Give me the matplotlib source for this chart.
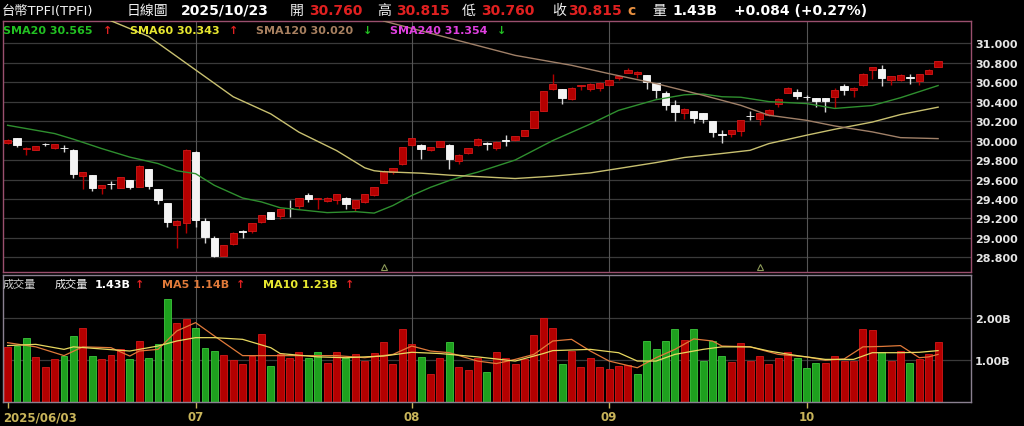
import numpy as np
import matplotlib
matplotlib.use('Agg')
import matplotlib.pyplot as plt
from matplotlib.transforms import blended_transform_factory

# Latin text from DejaVu, CJK characters fall back to Noto Sans CJK TC
plt.rcParams['font.family'] = ['DejaVu Sans', 'Noto Sans CJK TC']

# === daily candles, 2025/06/03 .. 2025/10/23 (100 trading days) ===
opens = [29.97, 30.027, 29.918, 29.90, 29.965, 29.925, 29.927, 29.908, 29.634, 29.65,
         29.51, 29.555, 29.515, 29.597, 29.525, 29.706, 29.50, 29.36, 29.13, 29.155,
         29.884, 29.173, 29.00, 28.817, 28.937, 29.07, 29.07, 29.162, 29.268, 29.224,
         29.312, 29.333, 29.44, 29.395, 29.38, 29.39, 29.415, 29.31, 29.367, 29.436,
         29.562, 29.672, 29.76, 29.95, 29.955, 29.90, 29.93, 29.955, 29.785, 29.87,
         29.95, 29.97, 29.92, 30.002, 30.003, 30.046, 30.13, 30.30, 30.527, 30.527,
         30.424, 30.557, 30.533, 30.54, 30.567, 30.646, 30.697, 30.687, 30.67, 30.59,
         30.489, 30.37, 30.284, 30.30, 30.284, 30.202, 30.065, 30.072, 30.096, 30.253,
         30.219, 30.26, 30.373, 30.489, 30.50, 30.45, 30.44, 30.44, 30.448, 30.557,
         30.523, 30.568, 30.72, 30.738, 30.626, 30.626, 30.65, 30.608, 30.687, 30.760]
highs = [30.02, 30.03, 29.93, 29.94, 29.97, 29.965, 29.952, 29.91, 29.68, 29.65,
         29.545, 29.583, 29.63, 29.60, 29.745, 29.71, 29.50, 29.36, 29.18, 29.91,
         29.89, 29.207, 29.02, 28.93, 29.06, 29.084, 29.155, 29.235, 29.27, 29.30,
         29.385, 29.415, 29.46, 29.41, 29.42, 29.45, 29.42, 29.39, 29.455, 29.52,
         29.70, 29.72, 29.935, 30.03, 29.96, 29.93, 30.0, 29.96, 29.86, 29.92,
         30.03, 29.99, 29.995, 30.055, 30.05, 30.11, 30.30, 30.51, 30.687, 30.53,
         30.545, 30.575, 30.59, 30.60, 30.625, 30.67, 30.745, 30.71, 30.675, 30.595,
         30.506, 30.414, 30.33, 30.30, 30.285, 30.205, 30.106, 30.11, 30.215, 30.30,
         30.285, 30.32, 30.435, 30.55, 30.533, 30.47, 30.44, 30.44, 30.54, 30.585,
         30.545, 30.69, 30.76, 30.773, 30.665, 30.68, 30.687, 30.68, 30.73, 30.815]
lows = [29.96, 29.935, 29.85, 29.90, 29.94, 29.91, 29.884, 29.62, 29.50, 29.484,
        29.45, 29.50, 29.51, 29.50, 29.52, 29.50, 29.35, 29.115, 28.90, 29.046,
        29.115, 28.944, 28.80, 28.81, 28.93, 29.00, 29.05, 29.15, 29.19, 29.19,
        29.214, 29.30, 29.367, 29.30, 29.37, 29.35, 29.30, 29.275, 29.36, 29.43,
        29.56, 29.66, 29.75, 29.94, 29.81, 29.89, 29.93, 29.71, 29.76, 29.86,
        29.94, 29.90, 29.90, 29.945, 29.995, 30.044, 30.13, 30.30, 30.52, 30.376,
        30.42, 30.516, 30.51, 30.51, 30.565, 30.62, 30.69, 30.646, 30.533, 30.437,
        30.31, 30.198, 30.226, 30.18, 30.185, 30.038, 29.97, 30.04, 30.048, 30.215,
        30.157, 30.255, 30.345, 30.485, 30.43, 30.42, 30.345, 30.294, 30.33, 30.47,
        30.448, 30.565, 30.636, 30.557, 30.568, 30.61, 30.578, 30.568, 30.68, 30.760]
closes = [30.01, 29.952, 29.928, 29.94, 29.96, 29.962, 29.922, 29.66, 29.68, 29.515,
          29.54, 29.55, 29.627, 29.525, 29.74, 29.53, 29.388, 29.16, 29.176, 29.908,
          29.183, 29.012, 28.814, 28.926, 29.053, 29.064, 29.152, 29.234, 29.19, 29.296,
          29.306, 29.412, 29.40, 29.408, 29.415, 29.446, 29.35, 29.39, 29.453, 29.52,
          29.692, 29.72, 29.932, 30.027, 29.915, 29.93, 29.993, 29.81, 29.856, 29.92,
          30.02, 29.965, 29.99, 29.998, 30.044, 30.11, 30.30, 30.506, 30.58, 30.438,
          30.544, 30.574, 30.585, 30.595, 30.62, 30.663, 30.728, 30.705, 30.60, 30.516,
          30.37, 30.294, 30.328, 30.232, 30.22, 30.089, 30.06, 30.106, 30.215, 30.25,
          30.284, 30.318, 30.43, 30.544, 30.458, 30.447, 30.403, 30.405, 30.523, 30.523,
          30.54, 30.687, 30.755, 30.646, 30.66, 30.677, 30.646, 30.68, 30.728, 30.815]

# volume in billions, and whether the day closed up (red) or down (green)
volume = [1.31, 1.35, 1.54, 1.08, 0.84, 1.03, 1.10, 1.59, 1.76, 1.10,
          1.03, 1.12, 1.26, 1.02, 1.45, 1.05, 1.38, 2.46, 1.88, 1.98,
          1.78, 1.29, 1.23, 1.12, 1.00, 0.90, 1.10, 1.62, 0.86, 1.14,
          1.05, 1.19, 1.06, 1.20, 0.94, 1.20, 1.05, 1.14, 0.98, 1.18,
          1.44, 0.90, 1.74, 1.40, 1.08, 0.67, 1.06, 1.44, 0.83, 0.76,
          1.06, 0.73, 1.20, 1.06, 0.90, 1.03, 1.61, 2.02, 1.78, 0.92,
          1.22, 0.84, 1.06, 0.84, 0.78, 0.87, 0.88, 0.68, 1.46, 1.27,
          1.46, 1.75, 1.48, 1.74, 0.97, 1.46, 1.11, 0.95, 1.42, 0.99,
          1.11, 0.90, 1.06, 1.19, 1.06, 0.82, 0.94, 0.94, 1.11, 0.99,
          0.99, 1.75, 1.72, 1.19, 0.97, 1.23, 0.94, 1.03, 1.16, 1.43]
vol_up = [1, 0, 0, 1, 1, 1, 0, 0, 1, 0, 1, 1, 1, 0, 1, 0, 0, 0, 1, 1,
          0, 0, 0, 1, 1, 1, 1, 1, 0, 1, 1, 1, 0, 0, 1, 1, 0, 1, 1, 1,
          1, 1, 1, 1, 0, 1, 1, 0, 1, 1, 1, 0, 1, 1, 1, 1, 1, 1, 1, 0,
          1, 1, 1, 1, 1, 1, 1, 0, 0, 0, 0, 0, 1, 0, 0, 0, 0, 1, 1, 1,
          1, 1, 1, 1, 0, 0, 0, 1, 1, 1, 1, 1, 1, 0, 1, 1, 0, 1, 1, 1]

# moving averages (bar index, value)
sma20_x = [0, 5, 7, 10, 13, 16, 18, 20, 22, 25, 27, 29, 31, 34, 37, 39, 41, 43, 45,
           47, 49, 50, 54, 58, 62, 65, 69, 72, 74, 76, 78, 81, 85, 88, 92, 95, 99]
sma20_v = [30.157, 30.072, 30.014, 29.918, 29.83, 29.764, 29.69, 29.66, 29.54, 29.41,
           29.37, 29.31, 29.29, 29.26, 29.27, 29.255, 29.333, 29.436, 29.52, 29.59,
           29.65, 29.675, 29.80, 30.0, 30.17, 30.31, 30.42, 30.47, 30.478, 30.45,
           30.445, 30.40, 30.38, 30.33, 30.36, 30.44, 30.565]
sma60_x = [11, 15, 24, 28, 31, 35, 38, 39, 40, 44, 47, 50, 54, 58, 62, 65, 69, 72,
           76, 79, 81, 85, 88, 92, 95, 99]
sma60_v = [31.23, 31.07, 30.45, 30.274, 30.086, 29.897, 29.72, 29.69, 29.68, 29.665,
           29.645, 29.63, 29.61, 29.634, 29.668, 29.713, 29.774, 29.826, 29.867, 29.90,
           29.969, 30.055, 30.116, 30.19, 30.267, 30.343]
sma120_x = [40, 54, 60, 64, 69, 74, 78, 81, 85, 88, 92, 95, 99]
sma120_v = [31.228, 30.875, 30.773, 30.687, 30.585, 30.465, 30.362, 30.26, 30.208,
            30.15, 30.089, 30.03, 30.02]

ma5_x = [0, 3, 6, 8, 11, 13, 14, 16, 18, 20, 22, 25, 28, 31, 35, 38, 41, 43, 45, 47,
         50, 52, 54, 56, 58, 60, 62, 64, 67, 69, 71, 73, 75, 76, 79, 82, 85, 87, 89,
         91, 93, 95, 97, 98, 99]
ma5_v = [1.42, 1.32, 1.11, 1.32, 1.30, 1.10, 1.22, 1.26, 1.70, 1.90, 1.58, 1.11, 1.11,
         1.11, 1.11, 1.06, 1.14, 1.34, 1.22, 1.18, 0.98, 0.92, 1.02, 1.14, 1.46, 1.50,
         1.22, 0.98, 0.82, 1.06, 1.26, 1.51, 1.46, 1.34, 1.32, 1.14, 1.08, 1.00, 1.03,
         1.32, 1.33, 1.35, 1.06, 1.08, 1.14]
ma10_x = [0, 3, 6, 7, 10, 13, 16, 18, 20, 22, 25, 28, 29, 33, 36, 40, 43, 46, 50, 54,
          57, 58, 62, 65, 67, 69, 71, 74, 76, 79, 81, 84, 87, 90, 92, 95, 97, 99]
ma10_v = [1.35, 1.38, 1.26, 1.32, 1.27, 1.22, 1.34, 1.46, 1.54, 1.54, 1.50, 1.30, 1.16,
          1.08, 1.06, 1.10, 1.19, 1.16, 1.08, 0.98, 1.16, 1.23, 1.26, 1.18, 0.98, 0.98,
          1.14, 1.26, 1.32, 1.32, 1.22, 1.11, 1.02, 1.02, 1.18, 1.18, 1.19, 1.23]

price_ticks = [28.8, 29.0, 29.2, 29.4, 29.6, 29.8, 30.0, 30.2, 30.4, 30.6, 30.8, 31.0]
vol_ticks = [1.0, 2.0]
month_idx = [0, 20, 43, 64, 85]
month_labels = ['2025/06/03', '07', '08', '09', '10']
signal_idx = [40, 80]

# === colours ===
BG = 'black'
RED = '#b40000'
RED_EDGE = '#d41818'
WHITE = '#f4f4f4'
GREEN_VOL = '#1ea01e'
GRID = '#3a3a3a'
VGRID = '#555555'
FRAME = '#9a4f6e'
OLIVE = '#c8b45a'
TXT_RED = '#e02020'
TXT_GREEN = '#22c022'

W, H = 1024, 427
fig = plt.figure(figsize=(W / 100, H / 100), dpi=100, facecolor=BG)

def px_axes(x0, y0, x1, y1):
    return fig.add_axes([x0 / W, 1 - y1 / H, (x1 - x0) / W, (y1 - y0) / H])

ax = px_axes(3, 22, 971, 273)
axv = px_axes(3, 276, 971, 403)
xlim = (-0.49, 102.5)

x = np.arange(len(opens))

# ---- price panel ----
ax.set_facecolor(BG)
ax.set_xlim(*xlim)
ax.set_ylim(28.65, 31.228)
for p in price_ticks:
    ax.axhline(p, color=GRID, lw=0.9, zorder=0)
for m in month_idx[1:]:
    ax.axvline(m, color=VGRID, lw=0.8, zorder=0)

o = np.array(opens); c = np.array(closes)
up = c >= o
body_lo = np.minimum(o, c)
body_h = np.maximum(np.abs(c - o), 0.004)
wick_col = [RED if u else '#d8d8d8' for u in up]
ax.vlines(x, lows, highs, colors=wick_col, lw=1.0, zorder=2)
ax.bar(x[up], body_h[up], bottom=body_lo[up], width=0.78,
       color=RED, edgecolor=RED_EDGE, lw=0.6, zorder=3)
ax.bar(x[~up], body_h[~up], bottom=body_lo[~up], width=0.78,
       color=WHITE, edgecolor='#ffffff', lw=0.6, zorder=3)

ax.plot(sma20_x, sma20_v, color='#2f8f2f', lw=1.0, zorder=4)
ax.plot(sma60_x, sma60_v, color='#c8c070', lw=1.0, zorder=4)
ax.plot(sma120_x, sma120_v, color='#a08068', lw=1.0, zorder=4)

trans = blended_transform_factory(ax.transData, ax.transAxes)
ax.plot(signal_idx, [0.018] * len(signal_idx), transform=trans, ls='none',
        marker='^', ms=4, mfc='none', mec='#8c9a58', mew=0.8, clip_on=False)

ax.yaxis.tick_right()
ax.set_yticks(price_ticks)
ax.set_yticklabels([f'{p:.3f}' for p in price_ticks], fontweight='bold')
ax.tick_params(axis='y', length=0, pad=3, labelsize=8, labelcolor='#e6e6e6')
ax.set_xticks([])
for s in ax.spines.values():
    s.set_color(FRAME)
    s.set_linewidth(1.0)

# ---- volume panel ----
axv.set_facecolor(BG)
axv.set_xlim(*xlim)
axv.set_ylim(0, 3.04)
for v in vol_ticks:
    axv.axhline(v, color=GRID, lw=0.9, zorder=0)
for m in month_idx[1:]:
    axv.axvline(m, color=VGRID, lw=0.8, zorder=0)
vu = np.array(vol_up, dtype=bool)
vol = np.array(volume)
axv.bar(x[vu], vol[vu], width=0.74, color=RED, edgecolor=RED_EDGE, lw=0.6, zorder=2)
axv.bar(x[~vu], vol[~vu], width=0.74, color=GREEN_VOL, edgecolor='#3cc83c', lw=0.6, zorder=2)
axv.plot(ma5_x, ma5_v, color='#e07a3a', lw=0.9, zorder=3)
axv.plot(ma10_x, ma10_v, color='#e8d860', lw=0.9, zorder=3)

axv.yaxis.tick_right()
axv.set_yticks(vol_ticks)
axv.set_yticklabels([f'{v:.2f}B' for v in vol_ticks], fontweight='bold')
axv.tick_params(axis='y', length=0, pad=3, labelsize=8, labelcolor='#e6e6e6')
axv.set_xticks(month_idx)
axv.set_xticklabels([])
axv.tick_params(axis='x', length=4, color=OLIVE, width=1)
for s in axv.spines.values():
    s.set_color('#8a8090')
    s.set_linewidth(1.0)

tv = blended_transform_factory(axv.transData, fig.transFigure)
for i, lab in zip(month_idx, month_labels):
    if i == month_idx[0]:
        fig.text(3 / W, 1 - 418 / H, lab, color=OLIVE, fontsize=8.5,
                 fontweight='bold', ha='left', va='center')
    else:
        fig.text(i, 1 - 418 / H, lab, transform=tv, color=OLIVE, fontsize=8.5,
                 fontweight='bold', ha='center', va='center')

# ---- header texts ----
def put(xp, yp, s, color, size, bold=False):
    fig.text(xp / W, 1 - yp / H, s, color=color, fontsize=size,
             fontweight='bold' if bold else 'normal', ha='left', va='center')

hy = 11
put(2, hy, '台幣TPFI(TPFI)', '#f0f0f0', 9.5)
put(127, hy, '日線圖', '#f0f0f0', 10)
put(181, hy, '2025/10/23', '#ffffff', 10, True)
put(290, hy, '開', '#f0f0f0', 10)
put(309, hy, '30.760', TXT_RED, 10, True)
put(377, hy, '高', '#f0f0f0', 10)
put(396, hy, '30.815', TXT_RED, 10, True)
put(462, hy, '低', '#f0f0f0', 10)
put(481, hy, '30.760', TXT_RED, 10, True)
put(552, hy, '收', '#f0f0f0', 10)
put(568, hy, '30.815', TXT_RED, 10, True)
put(627, hy, 'c', '#e89040', 10, True)
put(652, hy, '量', '#f0f0f0', 10)
put(672, hy, '1.43B', '#ffffff', 10, True)
put(734, hy, '+0.084 (+0.27%)', '#ffffff', 10, True)

ly = 31
put(3, ly, 'SMA20 30.565', TXT_GREEN, 8, True)
put(103, ly, '↑', TXT_RED, 8, True)
put(130, ly, 'SMA60 30.343', '#e8e830', 8, True)
put(229, ly, '↑', TXT_RED, 8, True)
put(256, ly, 'SMA120 30.020', '#a88060', 8, True)
put(363, ly, '↓', TXT_GREEN, 8, True)
put(390, ly, 'SMA240 31.354', '#e040e0', 8, True)
put(497, ly, '↓', TXT_GREEN, 8, True)

vy = 285
put(3, vy, '成交量', '#d0d0d0', 8)
put(55, vy, '成交量', '#f0f0f0', 8)
put(95, vy, '1.43B', '#ffffff', 8, True)
put(135, vy, '↑', TXT_RED, 8, True)
put(162, vy, 'MA5 1.14B', '#e07a3a', 8, True)
put(236, vy, '↑', TXT_RED, 8, True)
put(263, vy, 'MA10 1.23B', '#e8e830', 8, True)
put(345, vy, '↑', TXT_RED, 8, True)

fig.savefig('out.png', dpi=100, facecolor=BG)
